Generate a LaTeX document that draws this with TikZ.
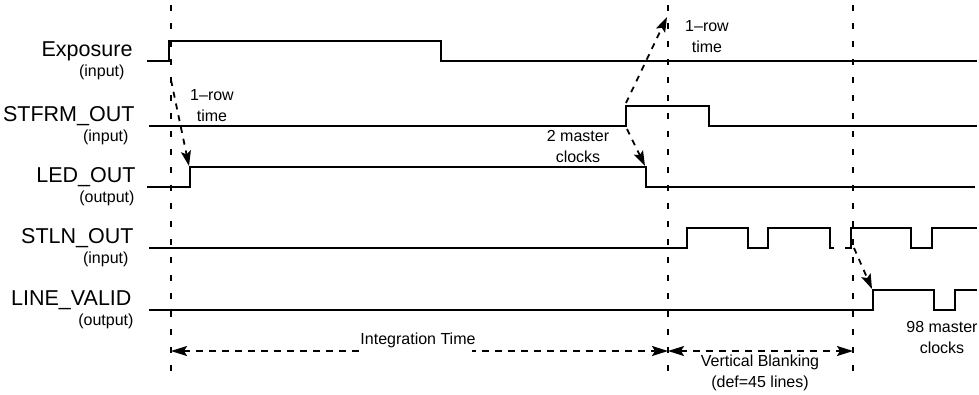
\documentclass[tikz,border=0pt]{standalone}
\usepackage{fontspec}
\setmainfont{Liberation Sans}
\usepackage{tikz}
\usetikzlibrary{arrows.meta}
\tikzset{wave/.style={line width=2pt},
 guide/.style={line width=1.8pt, dash pattern=on 6pt off 12pt},
 delay/.style={line width=1.8pt, dash pattern=on 6pt off 6pt,
   -{Stealth[length=15pt,width=10pt,inset=3pt]}},
 span/.style={line width=1.8pt, dash pattern=on 7pt off 6pt,
   {Stealth[length=16pt,width=10pt,inset=3pt]}-{Stealth[length=16pt,width=10pt,inset=3pt]}},
 signame/.style={anchor=base east, font=\fontsize{21.5}{25}\selectfont},
 sigdir/.style={anchor=base east, font=\fontsize{16}{19}\selectfont},
 note/.style={align=center, font=\fontsize{16}{21}\selectfont, inner sep=2pt},
 }

\begin{document}
\begin{tikzpicture}[x=1pt, y=-1pt]
        \useasboundingbox (0,0) rectangle (979,394);
        % signal names
        \foreach \name/\dir/\y/\nx/\dx [count=\i] in {Exposure/input/61/136/128,
            STFRM\_OUT/input/126/138/132, LED\_OUT/output/187/139/138,
            STLN\_OUT/input/248/137/132, LINE\_VALID/output/310/135/137} {
            \node[signame] (name\i) at (\nx, \y-4.5) {\name};
            \node[sigdir] (dir\i) at (\dx, \y+15.5) {(\dir)};
        }
        % guides
        \foreach \x in {171, 668, 853} {
            \draw[guide] (\x, 5) -- (\x, 377);
        }
        % waveforms
        \draw[wave] (147,61) -- (169,61) -- (169,41) -- (441,41) -- (441,61) -- (977,61);
        \draw[wave] (149,126) -- (626,126) -- (626,106) -- (709,106) -- (709,126) -- (977,126);
        \draw[wave] (147,187) -- (190,187) -- (190,167) -- (646,167) -- (646,187) -- (975,187);
        \draw[wave] (149,248) -- (687,248) -- (687,228) -- (748,228) -- (748,248)
            -- (768,248) -- (768,228) -- (830,228) -- (830,248) -- (834,248);
        \draw[wave] (845,248) -- (851,248) -- (851,228) -- (911,228) -- (911,248)
            -- (932,248) -- (932,228) -- (977,228);
        \draw[wave] (149,310) -- (873,310) -- (873,290) -- (934,290) -- (934,310)
            -- (955,310) -- (955,290) -- (977,290);
        % delays
        \coordinate (expup) at (171,80);
        \coordinate (ledup) at (189,166);
        \coordinate (stfup) at (626,103);
        \coordinate (rowtop) at (667,17);
        \coordinate (stfdn) at (627,129);
        \coordinate (leddn) at (645,166);
        \coordinate (stlnup) at (854,248);
        \coordinate (lvup) at (872,289);
        \draw[delay] (expup) -- (ledup);
        \draw[delay] (stfup) -- (rowtop);
        \draw[delay] (stfdn) -- (leddn);
        \draw[delay] (stlnup) -- (lvup);
        \node[note] (row1) at (212, 105.5) {1--row\\time};
        \node[note] (row2) at (707, 36.5) {1--row\\time};
        \node[note] (mclk2) at (578, 146.5) {2 master\\clocks};
        \node[note] (mclk98) at (942, 337) {98 master\\clocks};
        % spans
        \coordinate (intl) at (171,351);
        \coordinate (intr) at (668,351);
        \coordinate (vbl) at (668,351);
        \coordinate (vbr) at (853,351);
        \draw[span] (intl) -- (intr);
        \draw[span] (vbl) -- (vbr);
        \node[note, fill=white, anchor=base, inner xsep=-4pt, inner ysep=5pt] (inttime) at (418,344) {Integration Time};
        \node[note] (vblank) at (760, 372.5) {Vertical Blanking\\(def=45 lines)};
    \end{tikzpicture}
\end{document}
